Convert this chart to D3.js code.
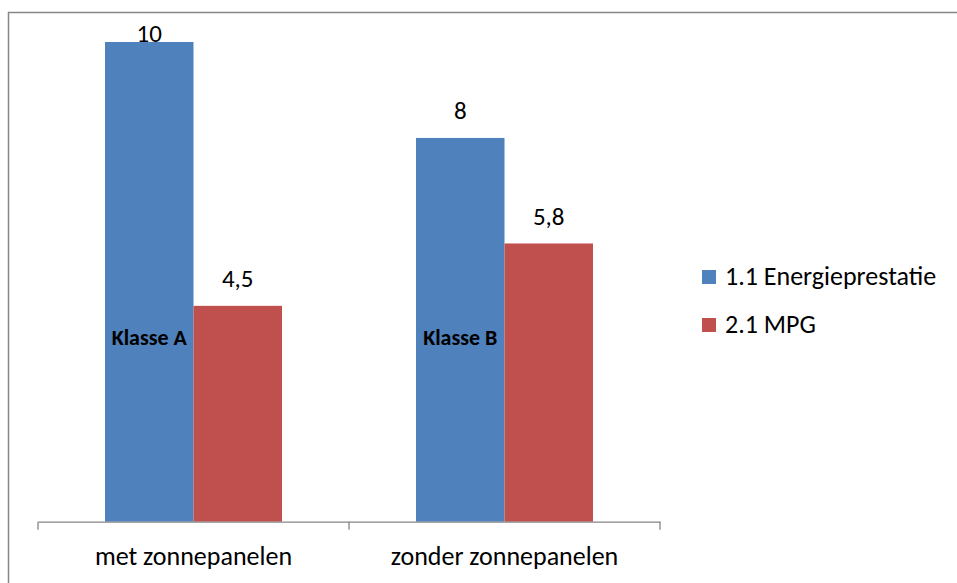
<!DOCTYPE html>
<html><head><meta charset="utf-8">
<script src="https://cdn.jsdelivr.net/npm/d3@7"></script>
<style>body{margin:0;background:#fff;} svg{display:block;} text{font-family:Carlito, Lato, "Open Sans", sans-serif;}</style>
</head><body>
<svg id="chart" width="957" height="583"></svg>
<script>
const categories = ["met zonnepanelen", "zonder zonnepanelen"];
const seriesNames = ["1.1 Energieprestatie", "2.1 MPG"];
const energieprestatie = [10, 8];
const mpg = [4.5, 5.8];
const valueLabels = [["10", "8"], ["4,5", "5,8"]];
const classLabels = ["Klasse A", "Klasse B"];
const colors = ["#4F81BD", "#C0504D"];

const svg = d3.select("#chart");
const W = 957, H = 583;
const plot = {left: 38, right: 660, top: 42, bottom: 521.7};
const FS = 26;

// outer border (top + left visible)
svg.append("path").attr("d", `M8.5,${H} L8.5,12.5 L${W},12.5`)
  .attr("fill", "none").attr("stroke", "#868686").attr("stroke-width", 1.5);

const x0 = d3.scaleBand().domain(categories).range([plot.left, plot.right]).padding(0);
const innerPad = 67 / 311;
const groupW = x0.bandwidth() * (1 - 2*innerPad);
const x1 = d3.scaleBand().domain(seriesNames)
  .range([x0.bandwidth()*innerPad, x0.bandwidth()*innerPad + groupW]).padding(0);

const y = d3.scaleLinear().domain([0, 10]).range([plot.bottom, plot.top]);

const series = [energieprestatie, mpg];
const rows = [];
series.forEach((vals, si) => vals.forEach((v, ci) => rows.push({si, ci, v, label: valueLabels[si][ci]})));

svg.append("g").selectAll("rect").data(rows).join("rect")
  .attr("x", d => x0(categories[d.ci]) + x1(seriesNames[d.si]))
  .attr("width", x1.bandwidth())
  .attr("y", d => y(d.v))
  .attr("height", d => y(0) - y(d.v))
  .attr("fill", d => colors[d.si]);

// value labels
svg.append("g").selectAll("text").data(rows).join("text")
  .attr("x", d => x0(categories[d.ci]) + x1(seriesNames[d.si]) + x1.bandwidth()/2)
  .attr("y", d => Math.max(y(d.v) - 18.5, plot.top))
  .attr("text-anchor", "middle").attr("font-size", FS - 1).attr("fill", "#000")
  .text(d => d.label);

// class labels
svg.append("g").selectAll("text").data(classLabels).join("text")
  .attr("x", (d, i) => x0(categories[i]) + x1(seriesNames[0]) + x1.bandwidth()/2)
  .attr("y", 345)
  .attr("text-anchor", "middle").attr("font-size", 22).attr("font-weight", "bold").attr("fill", "#000")
  .text(d => d);

// x axis
const axis = d3.axisBottom(x0).tickSize(0).tickSizeOuter(0);
const gx = svg.append("g").attr("transform", `translate(0,${plot.bottom})`).call(axis);
gx.select(".domain").attr("stroke", "#868686").attr("stroke-width", 1.3);
gx.selectAll(".tick text").attr("font-size", FS).attr("fill", "#000").attr("dy", 0).attr("y", 43.3)
  .style("font-family", "Carlito, Lato, 'Open Sans', sans-serif");
// boundary ticks
const bounds = [plot.left, plot.left + x0.bandwidth(), plot.right];
gx.selectAll(".bt").data(bounds).join("line").attr("class", "bt")
  .attr("x1", d => d).attr("x2", d => d).attr("y1", 0).attr("y2", 8)
  .attr("stroke", "#868686").attr("stroke-width", 1.3);

// legend
const lg = svg.append("g");
seriesNames.forEach((s, i) => {
  const yy = 270 + i * 48;
  lg.append("rect").attr("x", 702).attr("y", yy).attr("width", 14).attr("height", 14).attr("fill", colors[i]);
  lg.append("text").attr("x", 725).attr("y", yy + 15).attr("font-size", FS).attr("fill", "#000").text(s);
});
</script>
</body></html>
